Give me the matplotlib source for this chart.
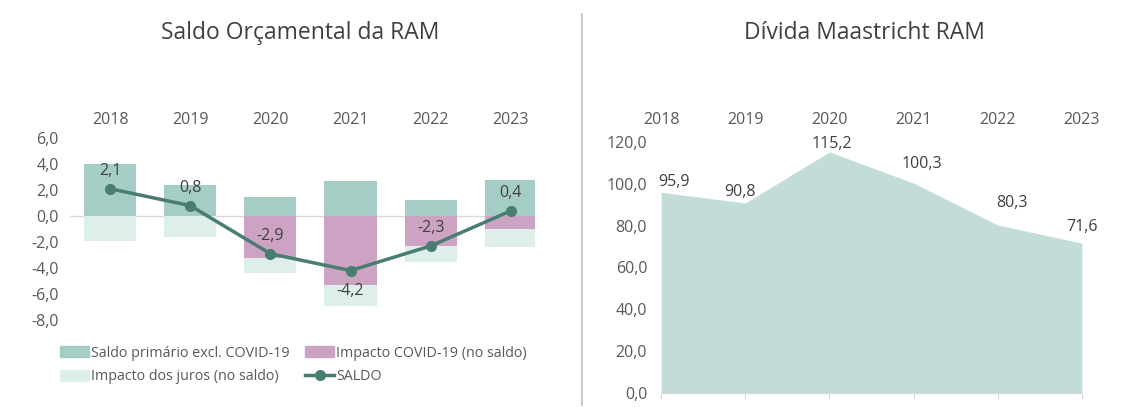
import matplotlib
matplotlib.use("Agg")
import matplotlib.pyplot as plt
from matplotlib.lines import Line2D
from matplotlib.patches import Patch

plt.rcParams["font.family"] = ["Open Sans", "DejaVu Sans"]

# ---- data ----
years = ["2018", "2019", "2020", "2021", "2022", "2023"]
saldo_primario = [4.0, 2.4, 1.5, 2.7, 1.2, 2.8]
impacto_covid = [0.0, 0.0, -3.2, -5.3, -2.3, -1.0]
impacto_juros = [-1.9, -1.6, -1.2, -1.6, -1.2, -1.4]
saldo = [2.1, 0.8, -2.9, -4.2, -2.3, 0.4]
divida = [95.9, 90.8, 115.2, 100.3, 80.3, 71.6]

TXT = "#595959"
C_GREEN = "#a3cdc5"
C_PINK = "#cca3c2"
C_LIGHT = "#deeeea"
C_LINE = "#4a7d72"
C_AREA = "#c2ddd7"
FS = 11.5


def fmt(v):
    return f"{v:.1f}".replace(".", ",")


fig = plt.figure(figsize=(11.34, 4.07), dpi=100)

# ---- left: Saldo Orçamental ----
ax = fig.add_axes([0.0617, 0.2138, 0.41, 0.447])
x = list(range(len(years)))
w = 0.65
ax.bar(x, saldo_primario, w, color=C_GREEN, zorder=2)
ax.bar(x, impacto_covid, w, color=C_PINK, zorder=2)
ax.bar(x, impacto_juros, w, bottom=impacto_covid, color=C_LIGHT, zorder=2)
ax.plot(x, saldo, color=C_LINE, lw=2.5, marker="o", ms=7, zorder=3)
ax.axhline(0, color="#d9d9d9", lw=1, zorder=1)
label_dy = [7, 7, 7, -9, 7, 7]
for xi, v, dy in zip(x, saldo, label_dy):
    ax.annotate(fmt(v), (xi, v), xytext=(0, dy), textcoords="offset points",
                ha="center", va="bottom" if dy > 0 else "top",
                fontsize=FS, color="#404040", zorder=4)
ax.set_xlim(-0.5, 5.3)
ax.set_ylim(-8, 6)
ax.set_yticks(range(-8, 7, 2))
ax.set_yticklabels([fmt(t) for t in range(-8, 7, 2)])
ax.set_xticks(x)
ax.set_xticklabels(years)
ax.tick_params(axis="x", bottom=False, top=False, labelbottom=False,
               labeltop=True, pad=4, labelsize=FS, labelcolor=TXT)
ax.tick_params(axis="y", length=0, pad=8, labelsize=FS, labelcolor=TXT)
for s in ax.spines.values():
    s.set_visible(False)

handles = [
    Patch(color=C_GREEN, label="Saldo primário excl. COVID-19"),
    Patch(color=C_LIGHT, label="Impacto dos juros (no saldo)"),
    Patch(color=C_PINK, label="Impacto COVID-19 (no saldo)"),
    Line2D([], [], color=C_LINE, lw=2.5, marker="o", ms=7, label="SALDO"),
]
fig.legend(handles=handles, ncol=2, loc="upper left",
           bbox_to_anchor=(0.048, 1 - 340 / 407), frameon=False,
           fontsize=10.3, labelcolor=TXT, handlelength=2.0, handleheight=0.8,
           handletextpad=0.15, columnspacing=1.1, labelspacing=0.6,
           borderaxespad=0)

# ---- right: Dívida Maastricht ----
ax2 = fig.add_axes([0.583, 0.0344, 0.371, 0.617])
ax2.fill_between(x, divida, 0, color=C_AREA, lw=0)
offsets = [(9, 2), (-4, 2), (2, 0), (6, 8), (10, 10), (0, 6)]
for xi, v, (dx, dy) in zip(x, divida, offsets):
    ax2.annotate(fmt(v), (xi, v), xytext=(dx, dy), textcoords="offset points",
                 ha="center", va="bottom", fontsize=FS, color="#404040")
ax2.set_xlim(0, 5)
ax2.set_ylim(0, 120)
ax2.set_yticks(range(0, 121, 20))
ax2.set_yticklabels([fmt(t) for t in range(0, 121, 20)])
ax2.set_xticks(x)
ax2.set_xticklabels(years)
ax2.tick_params(axis="x", bottom=True, top=False, labelbottom=False,
                labeltop=True, pad=6, labelsize=FS, labelcolor=TXT,
                length=4, color="#d9d9d9")
ax2.tick_params(axis="y", length=0, pad=10, labelsize=FS, labelcolor=TXT)
for s in ax2.spines.values():
    s.set_visible(False)
ax2.spines["bottom"].set_visible(True)
ax2.spines["bottom"].set_color("#d9d9d9")

# ---- titles and divider ----
fig.text(300 / 1134, 1 - 33 / 407, "Saldo Orçamental da RAM", ha="center",
         va="center", fontsize=16.5, color="#404040")
fig.text(864 / 1134, 1 - 33 / 407, "Dívida Maastricht RAM", ha="center",
         va="center", fontsize=16.5, color="#404040")
fig.add_artist(Line2D([582 / 1134, 582 / 1134], [0.005, 0.965],
                      color="#bfbfbf", lw=1.2))

fig.savefig("out.png", dpi=100)
